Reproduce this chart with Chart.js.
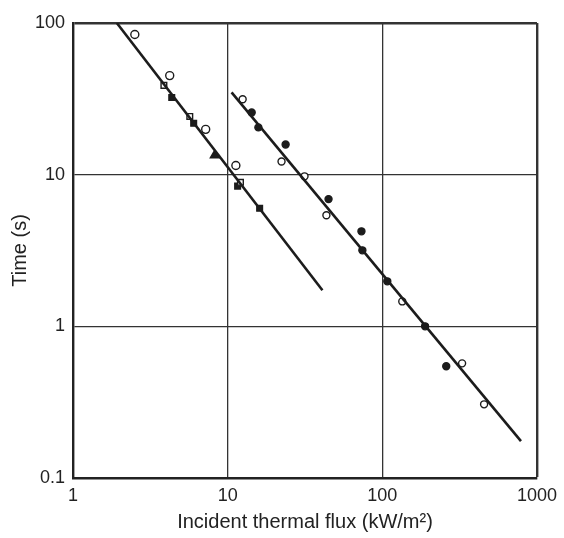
<!DOCTYPE html>
<html>
<head>
<meta charset="utf-8">
<script src="https://cdn.jsdelivr.net/npm/chart.js@4/dist/chart.umd.min.js"></script>
<style>
  html, body { margin: 0; padding: 0; background: #fff; }
  #wrap { width: 564px; height: 538px; }
</style>
</head>
<body>
<div id="wrap"><canvas id="chart"></canvas></div>
<script>
// decade ticks on both log axes
const xTicks = [1, 10, 100, 1000];
const yTicks = [0.1, 1, 10, 100];

// lower curve: open circles, open squares, filled squares, triangle
const lowCircles = [[2.51, 84], [4.22, 45], [7.21, 19.9], [11.3, 11.5]];
const lowSquaresOpen = [[3.87, 38.8], [5.69, 24.2], [12.1, 8.9]];
const lowSquaresFilled = [[4.35, 32.3], [6.03, 21.8], [11.6, 8.4], [16.1, 6.0]];
const lowTriangles = [[8.24, 13.4]];

// upper curve: open and filled circles
const highCircles = [[12.5, 31.4], [22.3, 12.2], [31.4, 9.75], [43.5, 5.4], [134.6, 1.46], [328, 0.57], [455, 0.306]];
const highDots = [[14.3, 25.7], [15.8, 20.5], [23.7, 15.8], [44.9, 6.9], [73.3, 4.23], [74.3, 3.17], [107.7, 1.98], [189, 1.0], [259, 0.545]];

// fitted lines, end points
const lowFit = [[1.92, 100], [41, 1.73]];
const highFit = [[10.6, 34.9], [788, 0.175]];

const toXY = (arr) => arr.map(([x, y]) => ({ x, y }));
const ink = '#1c1c1c';
const family = 'Liberation Sans, Arial, sans-serif';
const tickFont = { family, size: 18 };
const titleFont = { family, size: 20 };

function markers(data, style, filled, radius) {
  return {
    data: toXY(data),
    pointStyle: style,
    pointRadius: radius || 4,
    pointBorderWidth: 1.4,
    pointBorderColor: ink,
    pointBackgroundColor: filled ? ink : '#fff',
    showLine: false
  };
}

function fitLine(data) {
  return {
    data: toXY(data),
    showLine: true,
    borderColor: ink,
    borderWidth: 2.6,
    pointRadius: 0
  };
}

function gridWidth(ctx, last) {
  return ctx.index === last ? 2.4 : 1.3;
}

new Chart(document.getElementById('chart'), {
  type: 'scatter',
  data: {
    datasets: [
      fitLine(lowFit),
      fitLine(highFit),
      markers(lowCircles, 'circle', false),
      markers(lowSquaresOpen, 'rect', false),
      markers(lowSquaresFilled, 'rect', true),
      markers(lowTriangles, 'triangle', true, 5),
      markers(highCircles, 'circle', false, 3.5),
      markers(highDots, 'circle', true, 3.5)
    ]
  },
  options: {
    responsive: true,
    maintainAspectRatio: false,
    animation: false,
    layout: { padding: { top: 23, right: 26, left: 0, bottom: 0 } },
    plugins: { legend: { display: false }, tooltip: { enabled: false } },
    scales: {
      x: {
        type: 'logarithmic',
        min: 1,
        max: 1000,
        afterBuildTicks: (scale) => { scale.ticks = xTicks.map((v) => ({ value: v })); },
        afterFit: (scale) => { scale.height = 60; },
        ticks: {
          autoSkip: false,
          maxRotation: 0,
          padding: 7,
          color: '#222',
          font: tickFont,
          callback: (v) => String(v)
        },
        grid: {
          color: '#333',
          lineWidth: (ctx) => gridWidth(ctx, xTicks.length - 1),
          drawTicks: false
        },
        border: { color: '#222', width: 2.4 },
        title: {
          display: true,
          text: 'Incident thermal flux (kW/m²)',
          color: '#222',
          font: titleFont,
          padding: { top: 4, bottom: 4 }
        }
      },
      y: {
        type: 'logarithmic',
        min: 0.1,
        max: 100,
        afterBuildTicks: (scale) => { scale.ticks = yTicks.map((v) => ({ value: v })); },
        afterFit: (scale) => { scale.width = 73; },
        ticks: {
          autoSkip: false,
          padding: 8,
          color: '#222',
          font: tickFont,
          callback: (v) => String(v)
        },
        grid: {
          color: '#333',
          lineWidth: (ctx) => gridWidth(ctx, yTicks.length - 1),
          drawTicks: false
        },
        border: { color: '#222', width: 2.4 },
        title: {
          display: true,
          text: 'Time (s)',
          color: '#222',
          font: titleFont,
          padding: { top: 8, bottom: 4 }
        }
      }
    }
  }
});
</script>
</body>
</html>
